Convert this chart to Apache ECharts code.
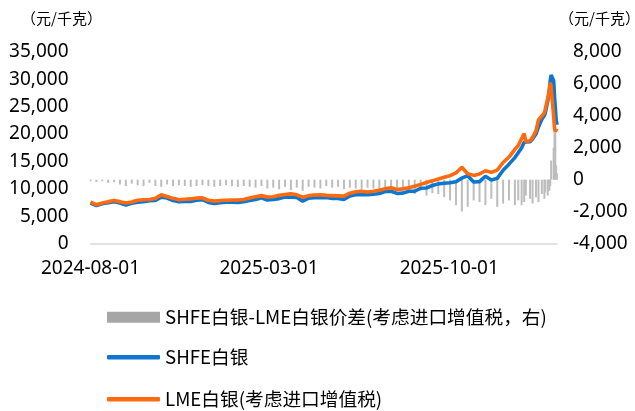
<!DOCTYPE html>
<html><head><meta charset="utf-8">
<script src="https://cdn.jsdelivr.net/npm/echarts@6/dist/echarts.min.js"></script>
<style>html,body{margin:0;padding:0;background:#fff}#c{width:635px;height:411px}</style>
</head><body><div id="c"></div>
<script>
const dates = [
'2024-08-01','2024-08-08','2024-08-15','2024-08-22','2024-08-29',
'2024-09-05','2024-09-12','2024-09-19','2024-09-26',
'2024-10-03','2024-10-10','2024-10-17','2024-10-24','2024-10-31',
'2024-11-07','2024-11-14','2024-11-21','2024-11-28',
'2024-12-05','2024-12-12','2024-12-19','2024-12-26',
'2025-01-02','2025-01-09','2025-01-16','2025-01-23','2025-01-30',
'2025-02-06','2025-02-13','2025-02-20','2025-02-27',
'2025-03-06','2025-03-13','2025-03-20','2025-03-27',
'2025-04-03','2025-04-10','2025-04-17','2025-04-24',
'2025-05-01','2025-05-08','2025-05-15','2025-05-22','2025-05-29',
'2025-06-05','2025-06-12','2025-06-19','2025-06-26',
'2025-07-03','2025-07-10','2025-07-17','2025-07-24','2025-07-31',
'2025-08-07','2025-08-14','2025-08-21','2025-08-28',
'2025-09-04','2025-09-11','2025-09-18','2025-09-25',
'2025-10-02','2025-10-09','2025-10-16','2025-10-23','2025-10-30',
'2025-11-06','2025-11-13','2025-11-20','2025-11-27',
'2025-12-04','2025-12-11','2025-12-18',
'2025-12-22','2025-12-26','2025-12-29','2025-12-31',
'2026-01-05','2026-01-08','2026-01-12','2026-01-15','2026-01-19','2026-01-22','2026-01-23',
'2026-01-26','2026-01-27','2026-01-28','2026-01-29','2026-01-30',
'2026-02-02','2026-02-03','2026-02-04','2026-02-05','2026-02-06'
];
// SHFE白银 (元/千克, 左轴)
const shfe = [
7400,6950,7250,7450,7650, 7400,7050,7350,7550,
7650,7800,7850,8450,8300, 7850,7650,7700,7700,
7900,8000,7500,7300, 7450,7550,7550,7500,7650,
7850,8050,8350,7950, 8050,8200,8500,8450,
8400,7750,8300,8350, 8350,8400,8250,8250,8050,
8700,8900,8950,8900, 9000,9150,9500,9550,9150,
9200,9550,9550,10100, 10150,10600,10900,11000,
11100,11300,11950,12400,11250, 11300,12300,11600,11900,
13400,14500,15700,
16600,17500,18500,18800,
18600,19100,20000,21300,22700,23400,23800,
26000,27000,28300,29800,30800,
29800,27000,24800,22600,21700
];
// LME白银(考虑进口增值税) (元/千克, 左轴)
const lme = [
7550,7100,7400,7650,7850, 7650,7400,7600,7900,
8000,8050,8250,8900,8600, 8250,8000,8100,8150,
8300,8350,7900,7750, 7850,7900,7950,7950,8050,
8300,8550,8750,8500, 8550,8800,8950,9100,
8900,8450,8750,8850, 8900,8800,8750,8700,8650,
9200,9450,9550,9400, 9550,9750,10000,10200,9850,
10000,10200,10450,10800, 11150,11450,11800,12100,
12400,12900,13950,12750,12450, 12700,13300,13000,13400,
14800,15800,17200,
17900,19200,20100,18600,
18800,19400,20600,22600,23300,23900,24500,
26500,27300,28300,29400,28600,
23300,21200,20500,20600,21000
];
// SHFE白银-LME白银价差 (元/千克, 右轴)
const spread = [
-100,-150,-100,-200,-150, -300,-400,-250,-350,
-400,-200,-400,-450,-300, -400,-350,-400,-450,
-400,-350,-400,-450, -400,-350,-400,-450,-400,
-450,-500,-400,-550, -500,-600,-450,-650,
-500,-700,-450,-500, -550,-400,-500,-450,-600,
-500,-550,-600,-500, -550,-600,-500,-650,-700,
-800,-650,-900,-700, -1000,-850,-900,-1100,
-1300,-1600,-2000,-1700,-1300, -1400,-1600,-1200,-1700,
-1500,-1300,-1600,
-1300,-1600,-1400,-1000,
-1200,-1500,-1100,-1400,-900,-1200,-800,
-1000,-600,-700,-400,1200,
2000,3300,3000,900,400
];
const xTickLabels = ['2024-08-01','2025-03-01','2025-10-01'];
const seriesNames = ['SHFE白银-LME白银价差(考虑进口增值税，右)','SHFE白银','LME白银(考虑进口增值税)'];
const unitLabel = '（元/千克）';

const P = s => +echarts.number.parseDate(s);
const FONT = '"Noto Sans", "Noto Sans CJK SC", sans-serif';
const CJK = '"Noto Sans CJK SC", sans-serif';
const fmt = v => Number(v).toLocaleString('en-US');
const pad = n => (n < 10 ? '0' : '') + n;
const dateFmt = v => { const d = new Date(v); return d.getFullYear() + '-' + pad(d.getMonth() + 1) + '-' + pad(d.getDate()); };
const pair = arr => dates.map((d, i) => [P(d), arr[i]]);

const BLUE = '#0F76D0', ORANGE = '#FF6A0F', GRAY = '#a6a6a6';
const chart = echarts.init(document.getElementById('c'), null, {renderer: 'canvas'});
const legendBase = {orient: 'horizontal', left: 102, itemWidth: 53, itemGap: 0,
  textStyle: {fontSize: 18.7, color: '#000', fontFamily: CJK}, selectedMode: false};
chart.setOption({
  animation: false,
  backgroundColor: '#fff',
  grid: {left: 90.5, right: 78, top: 52, bottom: 167.5},
  xAxis: {
    type: 'value', min: P(dates[0]), max: P(dates[dates.length - 1]), scale: true,
    axisLine: {lineStyle: {color: '#d9d9d9', width: 1.5}},
    axisTick: {show: false}, splitLine: {show: false},
    axisLabel: {
      customValues: xTickLabels.map(P),
      formatter: dateFmt,
      color: '#000', fontSize: 19, margin: 16, fontFamily: FONT, hideOverlap: false
    }
  },
  yAxis: [
    {type: 'value', min: 0, max: 35000, interval: 5000, position: 'left',
     axisLine: {show: false}, axisTick: {show: false}, splitLine: {show: false},
     axisLabel: {formatter: fmt, color: '#000', fontSize: 19, margin: 22, fontFamily: FONT}},
    {type: 'value', min: -4000, max: 8000, interval: 2000, position: 'right',
     axisLine: {show: false}, axisTick: {show: false}, splitLine: {show: false},
     axisLabel: {formatter: fmt, color: '#000', fontSize: 19, margin: 16, fontFamily: FONT}}
  ],
  legend: [
    Object.assign({}, legendBase, {top: 303, data: [{name: seriesNames[0], icon: 'rect', itemStyle: {color: GRAY}}], itemHeight: 11}),
    Object.assign({}, legendBase, {top: 343, data: [{name: seriesNames[1], icon: 'roundRect', itemStyle: {color: BLUE}}], itemHeight: 4.5}),
    Object.assign({}, legendBase, {top: 385, data: [{name: seriesNames[2], icon: 'roundRect', itemStyle: {color: ORANGE}}], itemHeight: 4.5})
  ],
  graphic: [
    {type: 'text', left: 21, top: 11, style: {text: unitLabel, font: '15px ' + CJK, fill: '#000'}},
    {type: 'text', left: 559, top: 11, style: {text: unitLabel, font: '15px ' + CJK, fill: '#000'}}
  ],
  series: [
    {name: seriesNames[0], type: 'bar', yAxisIndex: 1, data: pair(spread), barWidth: 2,
     itemStyle: {color: '#bdbdbd'}},
    {name: seriesNames[1], type: 'line', yAxisIndex: 0, data: pair(shfe), symbol: 'none',
     lineStyle: {color: BLUE, width: 3.6}, itemStyle: {color: BLUE}},
    {name: seriesNames[2], type: 'line', yAxisIndex: 0, data: pair(lme), symbol: 'none',
     lineStyle: {color: ORANGE, width: 3.6}, itemStyle: {color: ORANGE}}
  ]
});
</script></body></html>
